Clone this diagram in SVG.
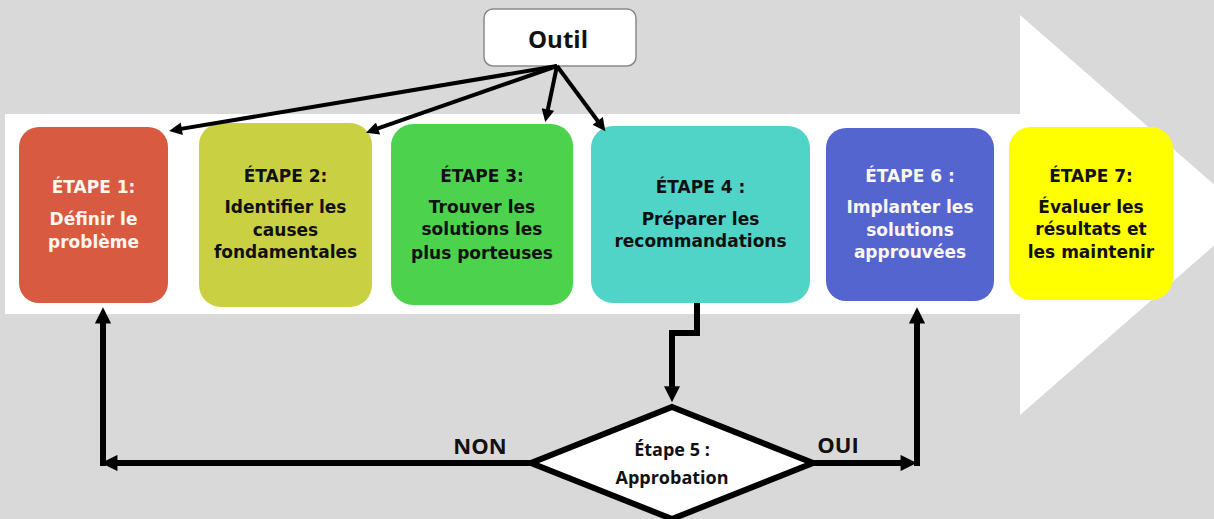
<svg xmlns="http://www.w3.org/2000/svg" width="1214" height="519" viewBox="0 0 1214 519">
  <style>
    .step { font-family: "DejaVu Sans", "Liberation Sans", sans-serif; font-weight: bold; font-size: 17px; text-anchor: middle; }
    .dark { fill: #111111; }
    .light { fill: #fbf6f0; }
    .lbl { font-family: "Open Sans", "Liberation Sans", sans-serif; font-weight: bold; fill: #111111; text-anchor: middle; }
    .wire { fill: none; stroke: #000000; stroke-linejoin: miter; }
  </style>
  <defs>
    <marker id="head" viewBox="0 0 10 10" refX="3" refY="5" markerWidth="3" markerHeight="2.7" orient="auto" markerUnits="strokeWidth">
      <path d="M0,0 L10,5 L0,10 z" fill="#000000"/>
    </marker>
    <marker id="headS" viewBox="0 0 10 10" refX="3" refY="5" markerWidth="3.6" markerHeight="3.2" orient="auto" markerUnits="strokeWidth">
      <path d="M0,0 L10,5 L0,10 z" fill="#000000"/>
    </marker>
  </defs>

  <!-- backdrop and the large process arrow -->
  <rect x="0" y="0" width="1214" height="519" fill="#d9d9d9"/>
  <polygon points="5,114 1020,114 1020,15 1249,215 1020,415 1020,314 5,314" fill="#ffffff"/>

  <!-- tool box -->
  <g id="outil">
    <rect x="484" y="9" width="152" height="57" rx="9" fill="#ffffff" stroke="#8a8a8a" stroke-width="1.5"/>
    <text class="lbl" x="558" y="48" font-size="24">Outil</text>
  </g>

  <!-- steps -->
  <g id="etape1">
    <rect x="19" y="127" width="149" height="176" rx="20" fill="#d85a40"/>
    <text class="step light" x="93.5" y="193">ÉTAPE 1:</text>
    <text class="step light" x="93.5" y="225">Définir le</text>
    <text class="step light" x="93.5" y="248">problème</text>
  </g>
  <g id="etape2">
    <rect x="199" y="123" width="173" height="184" rx="22" fill="#c9d142"/>
    <text class="step dark" x="285.5" y="182">ÉTAPE 2:</text>
    <text class="step dark" x="285.5" y="213">Identifier les</text>
    <text class="step dark" x="285.5" y="236">causes</text>
    <text class="step dark" x="285.5" y="258">fondamentales</text>
  </g>
  <g id="etape3">
    <rect x="391" y="124" width="182" height="181" rx="22" fill="#4cd24c"/>
    <text class="step dark" x="482" y="182">ÉTAPE 3:</text>
    <text class="step dark" x="482" y="213">Trouver les</text>
    <text class="step dark" x="482" y="235">solutions les</text>
    <text class="step dark" x="482" y="259">plus porteuses</text>
  </g>
  <g id="etape4">
    <rect x="591" y="126" width="219" height="177" rx="22" fill="#50d4c7"/>
    <text class="step dark" x="700.5" y="193">ÉTAPE 4 :</text>
    <text class="step dark" x="700.5" y="225">Préparer les</text>
    <text class="step dark" x="700.5" y="247">recommandations</text>
  </g>
  <g id="etape5">
    <polygon points="672,407 813,463 672,519 531,463" fill="#ffffff" stroke="#000000" stroke-width="6" stroke-linejoin="miter"/>
    <text class="lbl" x="672" y="456" font-size="18">Étape 5 :</text>
    <text class="lbl" x="672" y="484" font-size="18">Approbation</text>
  </g>
  <g id="etape6">
    <rect x="826" y="128" width="168" height="173" rx="20" fill="#5465cf"/>
    <text class="step light" x="910" y="182">ÉTAPE 6 :</text>
    <text class="step light" x="910" y="213">Implanter les</text>
    <text class="step light" x="910" y="236">solutions</text>
    <text class="step light" x="910" y="258">approuvées</text>
  </g>
  <g id="etape7">
    <rect x="1009" y="127" width="164" height="173" rx="22" fill="#ffff00"/>
    <text class="step dark" x="1091" y="182">ÉTAPE 7:</text>
    <text class="step dark" x="1091" y="213">Évaluer les</text>
    <text class="step dark" x="1091" y="235">résultats et</text>
    <text class="step dark" x="1091" y="258">les maintenir</text>
  </g>

  <!-- connectors -->
  <g id="connectors">
    <line class="wire" stroke-width="4" marker-end="url(#headS)" x1="557" y1="66" x2="178" y2="129.4"/>
    <line class="wire" stroke-width="4" marker-end="url(#headS)" x1="557" y1="66" x2="374.4" y2="129.7"/>
    <line class="wire" stroke-width="4" marker-end="url(#headS)" x1="557" y1="66" x2="547.1" y2="113.2"/>
    <line class="wire" stroke-width="4" marker-end="url(#headS)" x1="557" y1="66" x2="600" y2="124"/>

    <polyline class="wire" stroke-width="6" marker-end="url(#head)" points="697,303 697,333 672,333 672,391"/>

    <line class="wire" stroke-width="6" marker-end="url(#head)" x1="531" y1="463" x2="112.6" y2="463"/>
    <line class="wire" stroke-width="6" marker-end="url(#head)" x1="103" y1="466" x2="103" y2="318.6"/>

    <line class="wire" stroke-width="6" marker-end="url(#head)" x1="813" y1="463" x2="905.4" y2="463"/>
    <line class="wire" stroke-width="6" marker-end="url(#head)" x1="917" y1="466" x2="917" y2="318.6"/>

    <text class="lbl" x="480" y="454" font-size="22">NON</text>
    <text class="lbl" x="838" y="453" font-size="22">OUI</text>
  </g>
</svg>
